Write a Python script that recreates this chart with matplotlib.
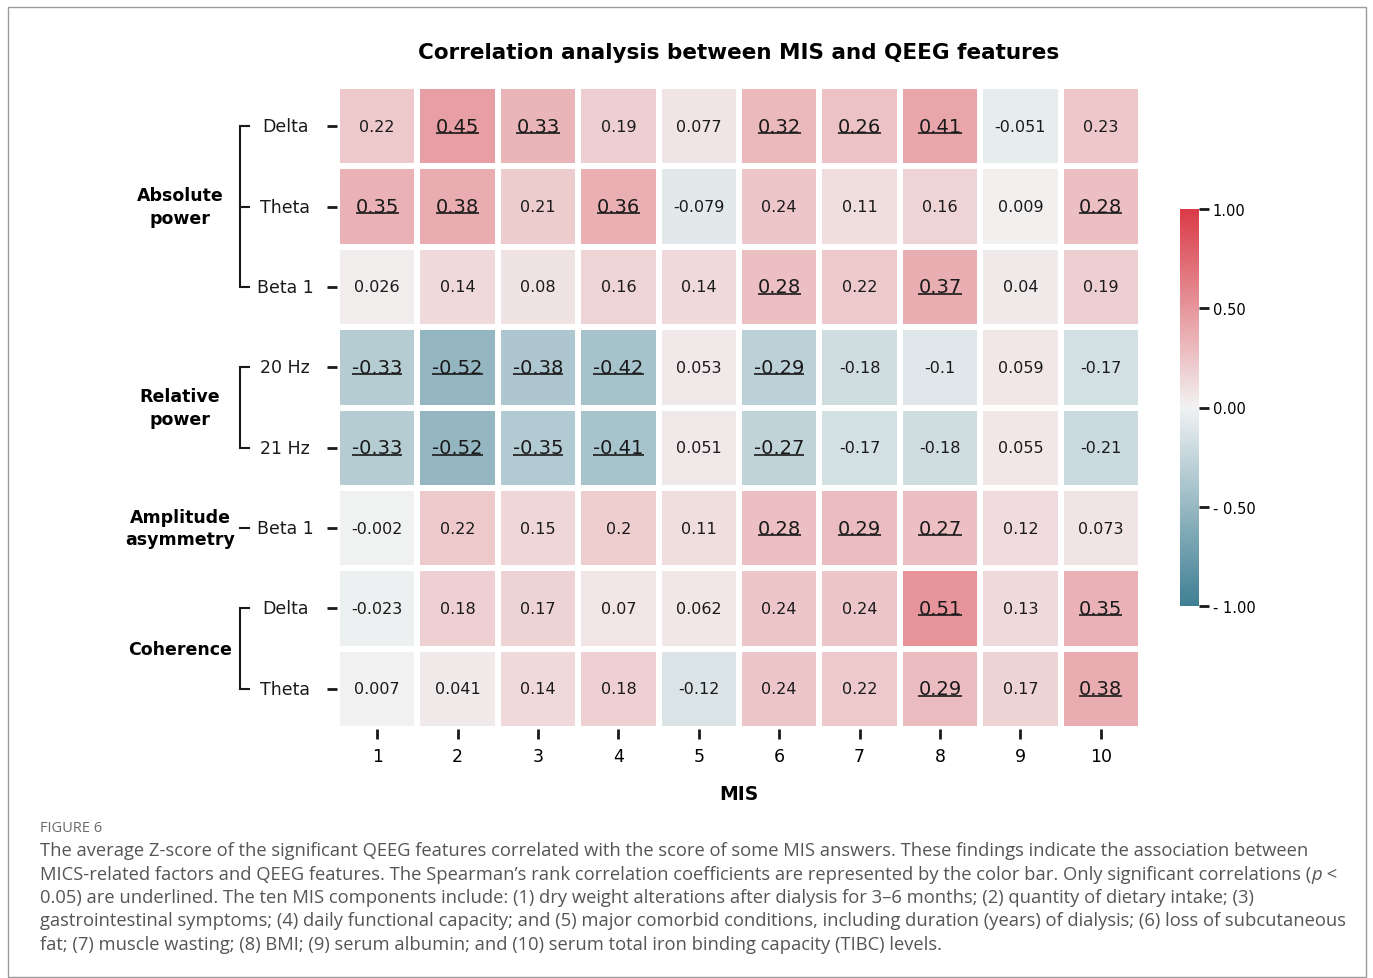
import matplotlib
matplotlib.use("Agg")
import matplotlib.pyplot as plt
import matplotlib.transforms as mtransforms
from matplotlib.patches import Rectangle
import numpy as np
import pandas as pd
import seaborn as sns

# ---------------- data ----------------
mis_labels = ["1", "2", "3", "4", "5", "6", "7", "8", "9", "10"]
row_labels = ["Delta", "Theta", "Beta 1", "20 Hz", "21 Hz", "Beta 1", "Delta", "Theta"]

abs_delta = [0.22, 0.45, 0.33, 0.19, 0.077, 0.32, 0.26, 0.41, -0.051, 0.23]
abs_theta = [0.35, 0.38, 0.21, 0.36, -0.079, 0.24, 0.11, 0.16, 0.009, 0.28]
abs_beta1 = [0.026, 0.14, 0.08, 0.16, 0.14, 0.28, 0.22, 0.37, 0.04, 0.19]
rel_20hz = [-0.33, -0.52, -0.38, -0.42, 0.053, -0.29, -0.18, -0.1, 0.059, -0.17]
rel_21hz = [-0.33, -0.52, -0.35, -0.41, 0.051, -0.27, -0.17, -0.18, 0.055, -0.21]
amp_beta1 = [-0.002, 0.22, 0.15, 0.2, 0.11, 0.28, 0.29, 0.27, 0.12, 0.073]
coh_delta = [-0.023, 0.18, 0.17, 0.07, 0.062, 0.24, 0.24, 0.51, 0.13, 0.35]
coh_theta = [0.007, 0.041, 0.14, 0.18, -0.12, 0.24, 0.22, 0.29, 0.17, 0.38]

# significant (underlined) flags
sig_abs_delta = [0, 1, 1, 0, 0, 1, 1, 1, 0, 0]
sig_abs_theta = [1, 1, 0, 1, 0, 0, 0, 0, 0, 1]
sig_abs_beta1 = [0, 0, 0, 0, 0, 1, 0, 1, 0, 0]
sig_rel_20hz = [1, 1, 1, 1, 0, 1, 0, 0, 0, 0]
sig_rel_21hz = [1, 1, 1, 1, 0, 1, 0, 0, 0, 0]
sig_amp_beta1 = [0, 0, 0, 0, 0, 1, 1, 1, 0, 0]
sig_coh_delta = [0, 0, 0, 0, 0, 0, 0, 1, 0, 1]
sig_coh_theta = [0, 0, 0, 0, 0, 0, 0, 1, 0, 1]

groups = ["Absolute\npower", "Relative\npower", "Amplitude\nasymmetry", "Coherence"]
group_rows = [(0, 2), (3, 4), (5, 5), (6, 7)]

cbar_ticks = [-1.0, -0.5, 0.0, 0.5, 1.0]
cbar_ticklabels = ["- 1.00", "- 0.50", "0.00", "0.50", "1.00"]

title = "Correlation analysis between MIS and QEEG features"
xlabel = "MIS"

caption_head = "FIGURE 6"
caption_lines = [
    "The average Z-score of the significant QEEG features correlated with the score of some MIS answers. These findings indicate the association between",
    "MICS-related factors and QEEG features. The Spearman\u2019s rank correlation coefficients are represented by the color bar. Only significant correlations (",
    "0.05) are underlined. The ten MIS components include: (1) dry weight alterations after dialysis for 3\u20136 months; (2) quantity of dietary intake; (3)",
    "gastrointestinal symptoms; (4) daily functional capacity; and (5) major comorbid conditions, including duration (years) of dialysis; (6) loss of subcutaneous",
    "fat; (7) muscle wasting; (8) BMI; (9) serum albumin; and (10) serum total iron binding capacity (TIBC) levels.",
]

# ---------------- figure ----------------
values = np.array([abs_delta, abs_theta, abs_beta1, rel_20hz, rel_21hz,
                   amp_beta1, coh_delta, coh_theta])
sig = np.array([sig_abs_delta, sig_abs_theta, sig_abs_beta1, sig_rel_20hz,
                sig_rel_21hz, sig_amp_beta1, sig_coh_delta, sig_coh_theta])
df = pd.DataFrame(values, index=row_labels, columns=mis_labels)

W, H = 1373, 979
plt.rcParams['font.family'] = ['DejaVu Sans']
fig = plt.figure(figsize=(W / 100, H / 100), dpi=100)

def fx(px):
    return px / W

def fy(py):
    return 1 - py / H

ax = fig.add_axes([fx(337), fy(730), fx(1141) - fx(337), fy(87) - fy(730)])
cax = fig.add_axes([fx(1180), fy(607), fx(1199) - fx(1180), fy(210) - fy(607)])

cmap = sns.diverging_palette(220, 10, as_cmap=True)
sns.heatmap(df, ax=ax, cbar_ax=cax, cmap=cmap, vmin=-1, vmax=1,
            linewidths=3, linecolor="white", annot=False)

# annotations
sig_texts = []
for i in range(values.shape[0]):
    for j in range(values.shape[1]):
        v = values[i, j]
        s = f"{v:g}"
        if sig[i, j]:
            t = ax.text(j + 0.5, i + 0.5, s, ha="center", va="center",
                        fontsize=14, color="#1a1a1a")
            sig_texts.append(t)
        else:
            ax.text(j + 0.5, i + 0.5, s, ha="center", va="center",
                    fontsize=11.5, color="#1a1a1a")

ax.set_title(title, fontsize=15.5, fontweight="bold", pad=20)
ax.set_xlabel(xlabel, fontsize=13.5, fontweight="bold", labelpad=14)
ax.set_ylabel("")
ax.set_xticklabels(mis_labels, rotation=0, fontsize=12.5)
ax.set_yticklabels([""] * len(row_labels))
ax.tick_params(axis="x", length=7, width=2, pad=6, color="#1a1a1a")
ax.tick_params(axis="y", length=7, width=2, pad=14, color="#1a1a1a")

blend = mtransforms.blended_transform_factory(fig.transFigure, ax.transData)

# row labels, centred as in the reference
for i, lab in enumerate(row_labels):
    ax.text(fx(285), i + 0.5, lab, transform=blend, ha="center", va="center",
            fontsize=12.5, color="#1a1a1a")

# colorbar
cax.set_yticks(cbar_ticks)
cax.set_yticklabels(cbar_ticklabels, fontsize=10.5)
cax.tick_params(length=7, width=2, pad=3, color="#1a1a1a")

# group labels and brackets
xb, xs = fx(240), fx(249)
for g, (r0, r1) in zip(groups, group_rows):
    yc = (r0 + r1) / 2 + 0.5
    ax.text(fx(180), yc, g, transform=blend, ha="center", va="center",
            fontsize=12.5, fontweight="bold", linespacing=1.3)
    if r0 == r1:
        ax.plot([xb, xs], [r0 + 0.5, r0 + 0.5], transform=blend, color="#1a1a1a",
                lw=1.5, clip_on=False)
    else:
        ax.plot([xs, xb, xb, xs], [r0 + 0.5, r0 + 0.5, r1 + 0.5, r1 + 0.5],
                transform=blend, color="#1a1a1a", lw=1.5, clip_on=False,
                solid_joinstyle="miter")
        if r1 - r0 == 2:
            ax.plot([xb, xs], [r0 + 1.5, r0 + 1.5], transform=blend,
                    color="#1a1a1a", lw=1.5, clip_on=False)

# border frame
fig.add_artist(Rectangle((fx(8), fy(978)), fx(1366) - fx(8), fy(8) - fy(978),
                         transform=fig.transFigure, fill=False,
                         edgecolor="#9a9a9a", lw=1.0))

# caption
cap_font = "Open Sans"
cap_size = 13.25
cap_color = "#555555"
fig.text(fx(40), fy(828), caption_head, fontsize=10.5, color="#6a6a6a",
         family=cap_font, va="center", ha="left")
cap_y = [851, 875, 898, 921, 945]
cap_texts = []
for line, yy in zip(caption_lines, cap_y):
    t = fig.text(fx(40), fy(yy), line, fontsize=cap_size, color=cap_color,
                 family=cap_font, va="center", ha="left")
    cap_texts.append(t)

fig.canvas.draw()
renderer = fig.canvas.get_renderer()

# italic p after line 2
bb = cap_texts[1].get_window_extent(renderer)
tp = fig.text(bb.x1 / W, fy(875), "p", fontsize=cap_size, color=cap_color,
              family=cap_font, style="italic", va="center", ha="left")
fig.canvas.draw()
bb2 = tp.get_window_extent(renderer)
fig.text(bb2.x1 / W, fy(875), " <", fontsize=cap_size, color=cap_color,
         family=cap_font, va="center", ha="left")

# underlines for significant values
inv = ax.transData.inverted()
for t in sig_texts:
    b = t.get_window_extent(renderer)
    yline = b.y0 + 0.14 * b.height
    (x0, y0) = inv.transform((b.x0, yline))
    (x1, _) = inv.transform((b.x1, yline))
    ax.plot([x0, x1], [y0, y0], color="#1a1a1a", lw=1.2, clip_on=False,
            solid_capstyle="butt")

fig.savefig("out.png", dpi=100)
